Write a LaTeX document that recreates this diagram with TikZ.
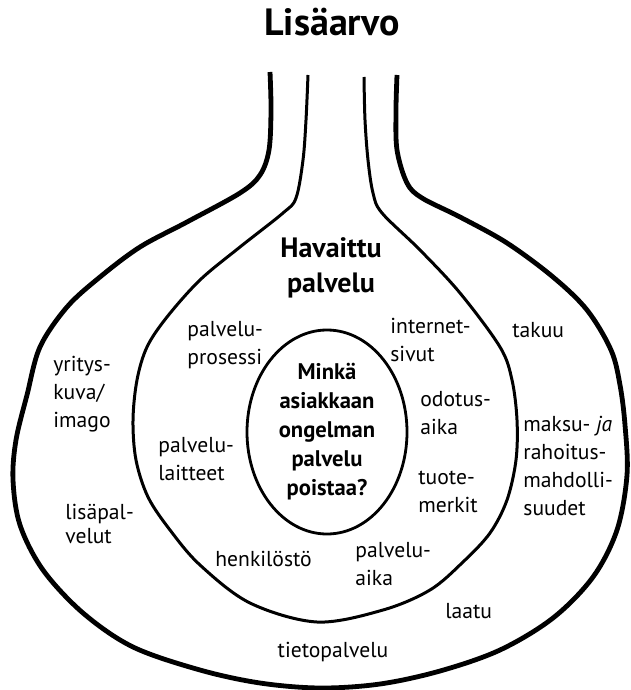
\documentclass[tikz,border=0pt]{standalone}
\usepackage{fontspec}
\setmainfont{PT Sans}
\usetikzlibrary{shapes.geometric,positioning}

\begin{document}
\begin{tikzpicture}[
  x=0.5pt, y=-0.5pt,
  bulb/.style={draw, line width=2.4pt, line join=round},
  layer/.style={draw, line width=1.5pt, line join=round},
  lbl/.style={anchor=base west, inner sep=0pt, align=left,
              font=\fontsize{10.8}{14}\selectfont},
  head/.style={anchor=base, inner sep=0pt, align=center, font=\bfseries},
  core/.style={draw, ellipse, line width=1.4pt, minimum width=80pt,
               minimum height=102pt, inner sep=0pt, align=center,
               font=\fontsize{11.3}{14.5}\selectfont\bfseries},
]
  \useasboundingbox (0,0) rectangle (631,690);

  % outer shell and inner layer
  \draw[bulb] plot[smooth, tension=0.55] coordinates {
    (270,72) (271,110) (269,150) (260,175) (240,193) (187,222) (140,247)
    (100,277) (67,307) (40,347) (27,395) (16,440) (13,480) (20,525)
    (43,570) (83,613) (133,647) (200,670) (260,683) (320,688) (380,684)
    (440,671) (500,650) (553,618) (593,577) (617,530) (627,475) (625,425)
    (620,385) (611,350) (587,310) (553,277) (507,243) (460,217) (422,198)
    (407,183) (397,150) (396,110) (397,75)};
  \draw[layer] plot[smooth, tension=0.55] coordinates {
    (308,75) (306,120) (303,160) (296,198) (283,213) (240,247) (200,280)
    (167,317) (147,347) (137,380) (133,420) (136,460) (148,497) (170,530)
    (200,565) (250,603) (317,622) (383,610) (430,590) (463,562) (490,533)
    (507,500) (516,460) (517,420) (512,380) (500,347) (460,293) (420,250)
    (382,213) (373,193) (368,160) (365,120) (364,77)};

  \node[core] (core) at (327,432) {Minkä\\asiakkaan\\ongelman\\palvelu\\poistaa?};

  \node[head, font=\fontsize{19}{22}\selectfont\bfseries] (title) at (332,36) {Lisäarvo};
  \node[head, font=\fontsize{14}{17.5}\selectfont\bfseries] (havaittu) at (331,292) {Havaittu\\palvelu};

  % inner layer (positions at last baseline)
  \node[lbl] (prosessi) at (187,364) {palvelu-\\prosessi};
  \node[lbl] (internet) at (390,361) {internet-\\sivut};
  \node[lbl] (laitteet) at (158,480) {palvelu-\\laitteet};
  \node[lbl] (odotus) at (420,434) {odotus-\\aika};
  \node[lbl] (merkit) at (418,512) {tuote-\\merkit};
  \node[lbl] (henkilo) at (215,566) {henkilöstö};
  \node[lbl] (paika) at (355,585) {palvelu-\\aika};

  % outer shell
  \node[lbl] (takuu) at (512,337) {takuu};
  \node[lbl] (imago) at (53,427) {yritys-\\kuva/\\imago};
  \node[lbl] (maksu) at (523,515) {maksu- \textit{ja}\\rahoitus-\\mahdolli-\\suudet};
  \node[lbl] (lisa) at (65,543) {lisäpal-\\[-2pt]velut};
  \node[lbl] (laatu) at (445,618) {laatu};
  \node[lbl, anchor=base] (tieto) at (333,657) {tietopalvelu};
\end{tikzpicture}
\end{document}
